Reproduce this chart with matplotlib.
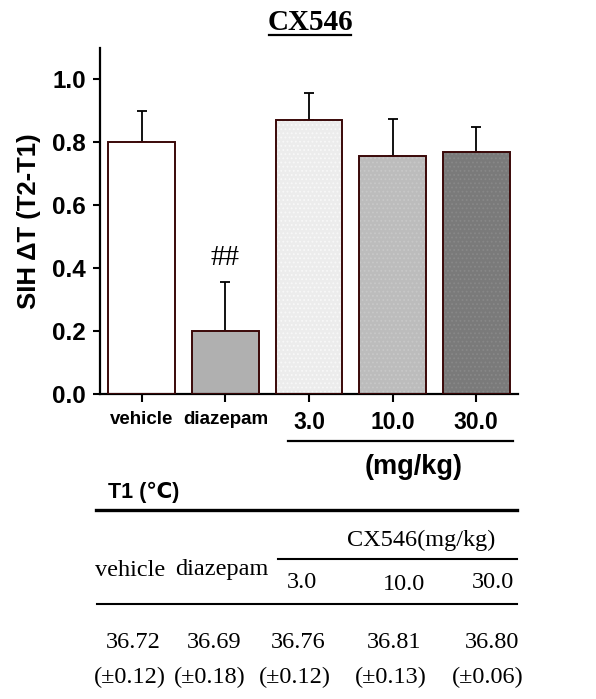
import matplotlib
matplotlib.use("Agg")
import matplotlib.pyplot as plt
from matplotlib.lines import Line2D

groups = ["vehicle", "diazepam", "3.0", "10.0", "30.0"]
means = [0.80, 0.20, 0.87, 0.757, 0.768]
sems = [0.10, 0.156, 0.088, 0.117, 0.081]
bar_colors = ["#ffffff", "#b0b0b0", "#ececec", "#bcbcbc", "#7a7a7a"]
dot_colors = [None, None, "#f8f8f8", "#c8c8c8", "#888888"]
yticks = [0.0, 0.2, 0.4, 0.6, 0.8, 1.0]
t1_groups = ["vehicle", "diazepam", "3.0", "10.0", "30.0"]
t1_means = ["36.72", "36.69", "36.76", "36.81", "36.80"]
t1_sems = ["0.12", "0.18", "0.12", "0.13", "0.06"]

W, H = 596, 699
plt.rcParams["hatch.linewidth"] = 0.8
fig = plt.figure(figsize=(W / 100, H / 100), dpi=100)

def fx(x):
    return x / W

def fy(y):
    return 1 - y / H

SANS = ["Liberation Sans", "DejaVu Sans"]
SERIF = ["Liberation Serif", "DejaVu Serif"]

ax = fig.add_axes([fx(100), fy(394), fx(518) - fx(100), fy(48) - fy(394)])
x = list(range(len(groups)))
ax.bar(x, means, width=0.8, color=bar_colors, edgecolor="none", linewidth=0, zorder=2)
for xi, m, dc in zip(x, means, dot_colors):
    if dc is not None:
        ax.bar(xi, m, width=0.8, color="none", edgecolor=dc, linewidth=0,
               hatch="....", zorder=2.5)
ax.bar(x, means, width=0.8, color="none", edgecolor="#3a0808", linewidth=1.4, zorder=3)
ax.errorbar(x, means, yerr=[[0] * len(sems), sems], fmt="none", ecolor="black",
            elinewidth=1.3, capsize=3.5, capthick=1.3, zorder=1)
ax.set_xlim(-0.5, 4.5)
ax.set_ylim(0, 1.1)
ax.set_yticks(yticks)
ax.set_yticklabels([f"{v:.1f}" for v in yticks], fontsize=17.5, fontweight="bold", family=SANS)
ax.set_xticks(x)
ax.set_xticklabels(groups, family=SANS, fontweight="bold")
for i, lab in enumerate(ax.get_xticklabels()):
    lab.set_fontsize(13.5 if i < 2 else 16.5)
ax.tick_params(axis="both", direction="out", width=1.5, length=5, pad=5)
ax.tick_params(axis="x", length=6, pad=6)
for s in ["top", "right"]:
    ax.spines[s].set_visible(False)
for s in ["left", "bottom"]:
    ax.spines[s].set_linewidth(1.6)
ax.set_ylabel("SIH ΔT (T2-T1)", fontsize=18.5, fontweight="bold", family=SANS, labelpad=8)

ax.text(1, 0.36 + 0.03, "##", ha="center", va="bottom", fontsize=21, family=SERIF)

# title
fig.text(fx(310), fy(22), "CX546", ha="center", va="center", fontsize=21,
         fontweight="bold", family=SERIF)
fig.add_artist(Line2D([fx(269), fx(351)], [fy(35), fy(35)], color="black", lw=1.6))

# dose underline and unit
fig.add_artist(Line2D([fx(288), fx(513)], [fy(441), fy(441)], color="black", lw=1.6))
fig.text(fx(414), fy(467), "(mg/kg)", ha="center", va="center", fontsize=19.5,
         fontweight="bold", family=SANS)
fig.text(fx(108), fy(492), "T1 (℃)", ha="left", va="center", fontsize=15.5,
         fontweight="bold", family=SANS)

# table
fig.add_artist(Line2D([fx(96), fx(517)], [fy(510), fy(510)], color="black", lw=2.4))
fig.text(fx(421), fy(540), "CX546(mg/kg)", ha="center", va="center", fontsize=17.5, family=SERIF)
fig.add_artist(Line2D([fx(278), fx(517)], [fy(559), fy(559)], color="black", lw=1.5))
fig.add_artist(Line2D([fx(97), fx(517)], [fy(604), fy(604)], color="black", lw=1.5))

head_x = [130, 222, 302, 404, 493]
head_y = [570, 570, 583, 585, 583]
for name, hx, hy in zip(t1_groups, head_x, head_y):
    fig.text(fx(hx), fy(hy), name, ha="center", va="center", fontsize=17.5, family=SERIF)

mean_x = [133, 214, 298, 394, 492]
sem_x = [130, 210, 295, 391, 488]
for m, s, mx, sx in zip(t1_means, t1_sems, mean_x, sem_x):
    fig.text(fx(mx), fy(642), m, ha="center", va="center", fontsize=17.5, family=SERIF)
    fig.text(fx(sx), fy(677), f"(±{s})", ha="center", va="center", fontsize=17.5, family=SERIF)

fig.savefig("out.png", dpi=100)
